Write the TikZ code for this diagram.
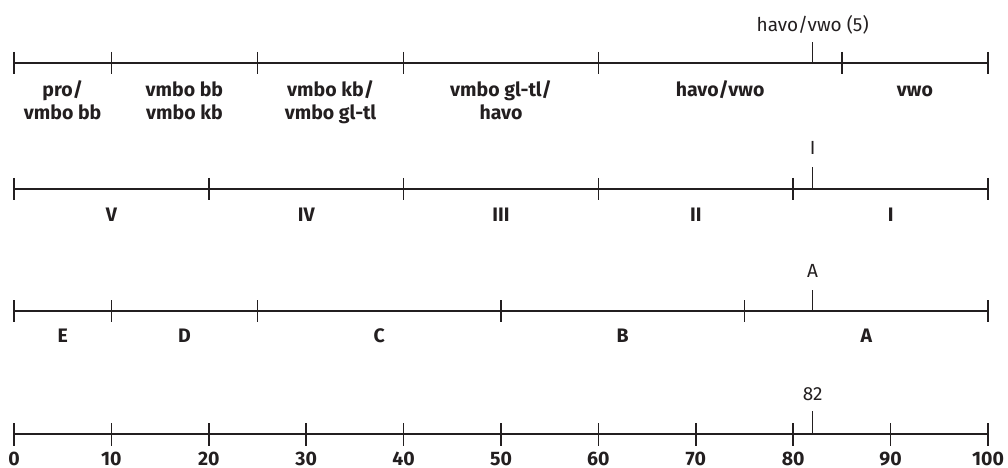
\documentclass[tikz,border=0pt]{standalone}
\usepackage{fontspec}
\setmainfont{Fira Sans}
\definecolor{ink}{HTML}{231F20}
\begin{document}
\begin{tikzpicture}[x=9.74pt,y=-1pt,line width=1.6pt,draw=ink,text=ink,
  lab/.style={font=\fontsize{19.5}{23.3}\selectfont\bfseries,align=center,inner sep=0pt,anchor=base},
  mlab/.style={font=\fontsize{19}{23}\selectfont,inner sep=0pt,anchor=base},
  num/.style={font=\fontsize{19.5}{23}\selectfont\bfseries,inner sep=0pt,anchor=base}]
\useasboundingbox (-1.4374,0) rectangle (102.0534,468);
% row 1
\coordinate (a0) at (0,63); \coordinate (a1) at (100,63);
\draw (a0) -- (a1);
\foreach \t in {0,10,25,40,60,85,100} \draw (\t,52) -- (\t,74);
\coordinate (am) at (82,63);
\node[mlab] (aml) at (82,31.7) {havo/vwo (5)};
\draw (am) -- ++(0,-21);
\node[lab] (l1a) at (5,120) {pro/\\vmbo bb};
\node[lab] (l1b) at (17.5,120) {vmbo bb\\vmbo kb};
\node[lab] (l1c) at (32.5,120) {vmbo kb/\\vmbo gl-tl};
\node[lab] (l1d) at (50,120) {vmbo gl-tl/\\havo};
\node[lab] (l1e) at (72.5,96.7) {havo/vwo};
\node[lab] (l1f) at (92.5,96.7) {vwo};
% row 2
\coordinate (b0) at (0,189); \coordinate (b1) at (100,189);
\draw (b0) -- (b1);
\foreach \t in {0,20,40,60,80,100} \draw (\t,178) -- (\t,200);
\coordinate (bm) at (82,189);
\node[mlab] (bml) at (82,155) {I};
\draw (bm) -- ++(0,-22);
\node[lab] (l2a) at (10,221.7) {V};
\node[lab] (l2b) at (30,221.7) {IV};
\node[lab] (l2c) at (50,221.7) {III};
\node[lab] (l2d) at (70,221.7) {II};
\node[lab] (l2e) at (90,221.7) {I};
% row 3
\coordinate (c0) at (0,311); \coordinate (c1) at (100,311);
\draw (c0) -- (c1);
\foreach \t in {0,10,25,50,75,100} \draw (\t,300) -- (\t,322);
\coordinate (cm) at (82,311);
\node[mlab] (cml) at (82,278) {A};
\draw (cm) -- ++(0,-21);
\node[lab] (l3a) at (5,342.7) {E};
\node[lab] (l3b) at (17.5,342.7) {D};
\node[lab] (l3c) at (37.5,342.7) {C};
\node[lab] (l3d) at (62.5,342.7) {B};
\node[lab] (l3e) at (87.5,342.7) {A};
% row 4
\coordinate (d0) at (0,434); \coordinate (d1) at (100,434);
\draw (d0) -- (d1);
\foreach \t in {0,10,...,100} {
  \draw (\t,423) -- (\t,446);
  \node[num] (n\t) at (\t,465) {\t};
}
\coordinate (dm) at (82,434);
\node[mlab] (dml) at (82,400.7) {82};
\draw (dm) -- ++(0,-23);
\end{tikzpicture}
\end{document}
